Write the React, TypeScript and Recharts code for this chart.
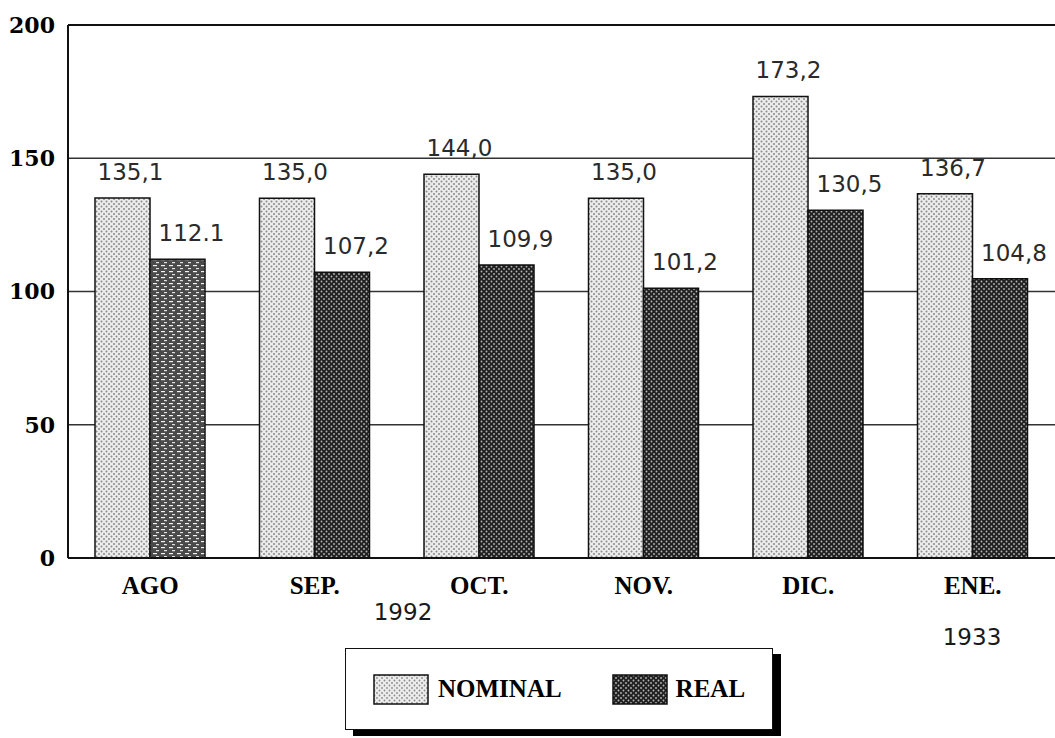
import React from 'react';
import { BarChart, Bar, XAxis, YAxis, CartesianGrid, LabelList, Cell, ReferenceLine } from 'recharts';

const months = ['AGO', 'SEP.', 'OCT.', 'NOV.', 'DIC.', 'ENE.'];
const nominal = [135.1, 135.0, 144.0, 135.0, 173.2, 136.7];
const real = [112.1, 107.2, 109.9, 101.2, 130.5, 104.8];
const nominalText = ['135,1', '135,0', '144,0', '135,0', '173,2', '136,7'];
const realText = ['112.1', '107,2', '109,9', '101,2', '130,5', '104,8'];
const yTicks = [0, 50, 100, 150, 200];
const yearLabels = [
  { text: '1992', x: 403, y: 612 },
  { text: '1933', x: 972, y: 637 },
];

const data = months.map((m, i) => ({
  month: m,
  nominal: nominal[i],
  real: real[i],
  nominalLabel: nominalText[i],
  realLabel: realText[i],
}));

const serifBold = { fontFamily: '"Liberation Serif", serif', fontWeight: 700, fill: '#000' };
const labelFont = '"DejaVu Sans", sans-serif';

function valueLabel(shift: number) {
  return (props: any) => {
    const { x, y, width, value } = props;
    return (
      <text
        x={x + width / 2 + shift}
        y={y - 18}
        textAnchor="middle"
        fontFamily={labelFont}
        fontSize={23}
        fill="#2a2a2a"
      >
        {value}
      </text>
    );
  };
}

function Swatch({ dark }: { dark: boolean }) {
  const id = dark ? 'swDark' : 'swLight';
  return (
    <svg width={56} height={31} style={{ display: 'block' }}>
      <defs>
        <pattern id={id} width={5} height={5} patternUnits="userSpaceOnUse">
          <rect width={5} height={5} fill={dark ? '#222' : '#ececec'} />
          <circle cx={1.5} cy={1.5} r={0.9} fill={dark ? '#b8b8b8' : '#8a8a8a'} />
          <circle cx={4} cy={4} r={0.9} fill={dark ? '#b8b8b8' : '#8a8a8a'} />
        </pattern>
      </defs>
      <rect x={1} y={1} width={54} height={29} fill={`url(#${id})`} stroke="#111" strokeWidth={1.5} />
    </svg>
  );
}

export default function App() {
  return (
    <div style={{ position: 'relative', width: 1055, height: 738, background: '#fff', overflow: 'hidden' }}>
      <style>{'body{margin:0}'}</style>
      <BarChart
        width={1055}
        height={738}
        data={data}
        margin={{ top: 25, right: 0, bottom: 150, left: 0 }}
        barGap={0}
        barSize={55}
      >
        <defs>
          <pattern id="dotsLight" width={5} height={5} patternUnits="userSpaceOnUse">
            <rect width={5} height={5} fill="#ececec" />
            <circle cx={1.5} cy={1.5} r={1} fill="#8a8a8a" />
            <circle cx={4} cy={4} r={1} fill="#8a8a8a" />
          </pattern>
          <pattern id="dotsDark" width={5} height={5} patternUnits="userSpaceOnUse">
            <rect width={5} height={5} fill="#222" />
            <circle cx={1.5} cy={1.5} r={0.9} fill="#b8b8b8" />
            <circle cx={4} cy={4} r={0.9} fill="#b8b8b8" />
          </pattern>
          <pattern id="streaks" width={8} height={6} patternUnits="userSpaceOnUse">
            <rect width={8} height={6} fill="#4a4a4a" />
            <rect x={1} y={1} width={4} height={1.2} fill="#f2f2f2" />
            <rect x={4} y={4} width={3} height={1.2} fill="#e0e0e0" />
          </pattern>
        </defs>
        <CartesianGrid vertical={false} stroke="#333" strokeWidth={1.5} />
        <XAxis
          dataKey="month"
          height={30}
          tickLine={false}
          tickSize={0}
          tickMargin={18}
          axisLine={{ stroke: '#111', strokeWidth: 2 }}
          tick={{ ...serifBold, fontSize: 25 }}
          interval={0}
        />
        <YAxis
          width={68}
          domain={[0, 200]}
          ticks={yTicks}
          tickLine={false}
          tickSize={0}
          tickMargin={13}
          axisLine={{ stroke: '#111', strokeWidth: 2 }}
          tick={{ fontFamily: '"DejaVu Serif", serif', fontWeight: 700, fill: '#000', fontSize: 22 }}
        />
        <ReferenceLine y={200} stroke="#111" strokeWidth={2} />
        <Bar dataKey="nominal" fill="url(#dotsLight)" stroke="#111" strokeWidth={1.5} isAnimationActive={false}>
          <LabelList dataKey="nominalLabel" content={valueLabel(8)} />
        </Bar>
        <Bar dataKey="real" fill="url(#dotsDark)" stroke="#111" strokeWidth={1.5} isAnimationActive={false}>
          {data.map((d, i) => (
            <Cell key={d.month} fill={i === 0 ? 'url(#streaks)' : 'url(#dotsDark)'} />
          ))}
          <LabelList dataKey="realLabel" content={valueLabel(14)} />
        </Bar>
      </BarChart>

      {yearLabels.map((y) => (
        <div
          key={y.text}
          style={{
            position: 'absolute',
            left: y.x,
            top: y.y,
            transform: 'translate(-50%, -50%)',
            fontFamily: labelFont,
            fontSize: 23,
            color: '#1a1a1a',
            lineHeight: 1,
          }}
        >
          {y.text}
        </div>
      ))}

      <div
        style={{
          position: 'absolute',
          left: 345,
          top: 648,
          width: 426,
          height: 80,
          border: '1px solid #111',
          boxShadow: '8px 6px 0 #000',
          background: '#fff',
          display: 'flex',
          alignItems: 'center',
          fontFamily: '"Liberation Serif", serif',
          fontWeight: 700,
          fontSize: 25,
        }}
      >
        <div style={{ marginLeft: 27 }}>
          <Swatch dark={false} />
        </div>
        <span style={{ marginLeft: 9 }}>NOMINAL</span>
        <div style={{ marginLeft: 50 }}>
          <Swatch dark={true} />
        </div>
        <span style={{ marginLeft: 8 }}>REAL</span>
      </div>
    </div>
  );
}
